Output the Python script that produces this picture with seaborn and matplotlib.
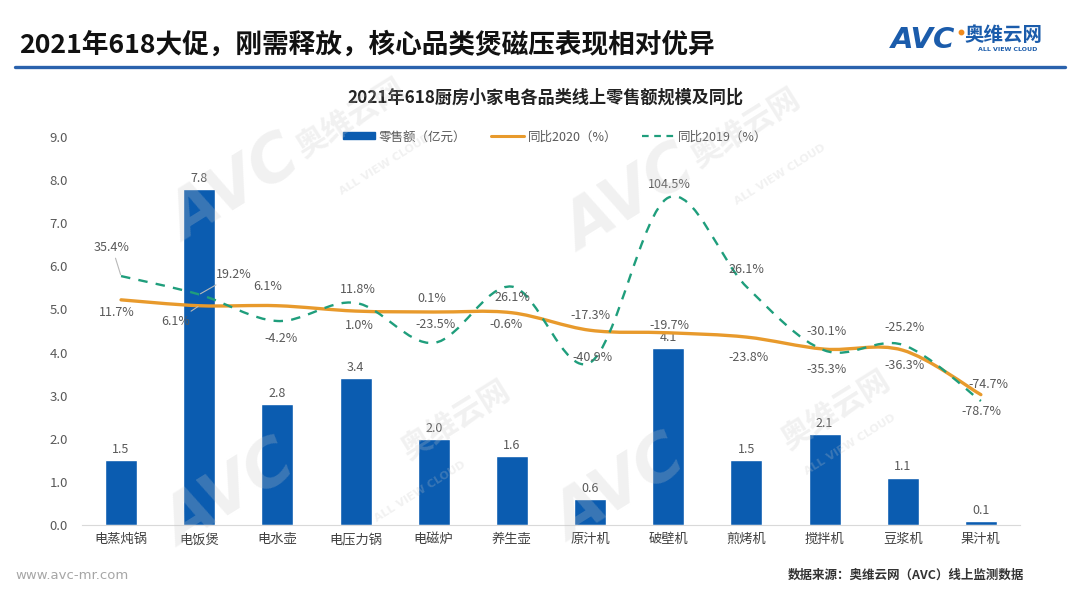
import numpy as np
import matplotlib
matplotlib.use("Agg")
import matplotlib.pyplot as plt
import seaborn as sns
from matplotlib.path import Path
from matplotlib.patches import PathPatch, Patch
from matplotlib.lines import Line2D

# ---------------- data ----------------
categories = ["电蒸炖锅", "电饭煲", "电水壶", "电压力锅", "电磁炉", "养生壶",
              "原汁机", "破壁机", "煎烤机", "搅拌机", "豆浆机", "果汁机"]
sales = [1.5, 7.8, 2.8, 3.4, 2.0, 1.6, 0.6, 4.1, 1.5, 2.1, 1.1, 0.1]
yoy2020 = [11.7, 6.1, 6.1, 1.0, 0.1, -0.6, -17.3, -19.7, -23.8, -35.3, -36.3, -78.7]
yoy2019 = [35.4, 19.2, -4.2, 11.8, -23.5, 26.1, -40.9, 104.5, 26.1, -30.1, -25.2, -74.7]
yticks = [0, 1, 2, 3, 4, 5, 6, 7, 8, 9]

# ---------------- style ----------------
BLUE = "#0b5cb0"
ORANGE = "#e89a2c"
GREEN = "#1f9e7c"
TXT = "#595959"

sns.set_style("white")
plt.rcParams["font.family"] = ["Noto Sans CJK SC", "DejaVu Sans"]

fig = plt.figure(figsize=(10.8, 6.08), dpi=100)
ax = fig.add_axes([0.0759, 0.1365, 0.8685, 0.6382])

sns.barplot(x=categories, y=sales, ax=ax, color=BLUE, width=0.41,
            saturation=1, zorder=2)
ax.set_ylim(0, 9)
ax.set_xlim(-0.5, len(categories) - 0.5)
ax.set_yticks(yticks)
ax.set_yticklabels([f"{v:.1f}" for v in yticks], color=TXT, fontsize=9.5)
ax.tick_params(axis="y", length=0, pad=10)
ax.tick_params(axis="x", length=0, pad=6, labelsize=9.5, labelcolor="#404040")
ax.set_xticks(np.arange(len(categories)) + 0.5, minor=True)
ax.tick_params(axis="x", which="minor", length=4, color="#d9d9d9", width=0.8)
ax.set_xlabel("")
ax.set_ylabel("")
for s in ["top", "right", "left"]:
    ax.spines[s].set_visible(False)
ax.spines["bottom"].set_color("#d9d9d9")
ax.bar_label(ax.containers[0], fmt="%.1f", padding=3, color=TXT, fontsize=9)

# hidden secondary axes for the two growth-rate lines
ax2 = ax.twinx()
ax2.set_ylim(-203, 167)
ax3 = ax.twinx()
ax3.set_ylim(-184, 158)
for a in (ax2, ax3):
    a.set_axis_off()
    a.set_xlim(ax.get_xlim())


def smooth_path(xs, ys):
    pts = np.column_stack([xs, ys]).astype(float)
    n = len(pts)
    verts = [pts[0]]
    codes = [Path.MOVETO]
    for i in range(n - 1):
        p0 = pts[i - 1] if i > 0 else pts[i]
        p1 = pts[i]
        p2 = pts[i + 1]
        p3 = pts[i + 2] if i + 2 < n else pts[i + 1]
        verts += [p1 + (p2 - p0) / 6.0, p2 - (p3 - p1) / 6.0, p2]
        codes += [Path.CURVE4] * 3
    return Path(verts, codes)


xpos = np.arange(len(categories))
ax2.add_patch(PathPatch(smooth_path(xpos, yoy2020), fill=False,
                        edgecolor=ORANGE, lw=2.4, capstyle="round", zorder=3))
ax3.add_patch(PathPatch(smooth_path(xpos, yoy2019), fill=False,
                        edgecolor=GREEN, lw=1.7, linestyle=(0, (4, 3.5)), zorder=4))

# label offsets (pixels: dx right, dy down)
off2020 = [(-4, 13), (-24, 16), (-10, -19), (4, 14), (-2, -14), (-6, 12),
           (0, -15), (1, -7), (2, 20), (2, 20), (2, 15), (1, 17)]
off2019 = [(-9, -29), (35, -20), (4, 17), (2, -13), (2, -18), (1, 11),
           (2, -5), (1, -13), (0, -17), (2, -19), (2, -17), (8, -16)]
lead2020 = {1}
lead2019 = {0, 1}


def put_labels(a, vals, offs, leads):
    for i, (v, (dx, dy)) in enumerate(zip(vals, offs)):
        kw = {}
        if i in leads:
            kw["arrowprops"] = dict(arrowstyle="-", color="#b8b8b8", lw=0.8,
                                    shrinkA=1, shrinkB=1)
        a.annotate(f"{v:.1f}%", xy=(i, v), xytext=(dx * 0.72, -dy * 0.72),
                   textcoords="offset points", ha="center", va="center",
                   fontsize=9, color=TXT, zorder=6, **kw)


put_labels(ax2, yoy2020, off2020, lead2020)
put_labels(ax3, yoy2019, off2019, lead2019)

# legend
handles = [Patch(facecolor=BLUE, edgecolor=BLUE),
           Line2D([], [], color=ORANGE, lw=2.2),
           Line2D([], [], color=GREEN, lw=1.6, linestyle=(0, (3, 2.5)))]
labels = ["零售额（亿元）", "同比2020（%）", "同比2019（%）"]
fig.legend(handles, labels, loc="center", bbox_to_anchor=(0.514, 0.775),
           ncol=3, frameon=False, fontsize=9, labelcolor=TXT,
           handlelength=2.6, handleheight=0.45, columnspacing=2.0,
           handletextpad=0.3)

# headings
fig.text(0.018, 0.926, "2021年618大促，刚需释放，核心品类煲磁压表现相对优异",
         fontsize=19.2, fontweight="bold", color="#111111", va="center", ha="left")
fig.add_artist(Line2D([0.014, 0.986], [0.89, 0.89], color="#2a62ad", lw=2.4))
fig.text(0.505, 0.84, "2021年618厨房小家电各品类线上零售额规模及同比",
         fontsize=12.3, fontweight="bold", color="#222222", va="center", ha="center")

# logo
fig.text(0.825, 0.935, "AVC", fontsize=21, fontweight="bold", style="italic",
         color="#1b5cab", va="center", ha="left", family="DejaVu Sans")
fig.add_artist(Line2D([0.8895], [0.947], marker="o", ms=3.2, color="#f08a1c", lw=0))
fig.text(0.893, 0.942, "奥维云网", fontsize=14, fontweight="bold",
         color="#1b5cab", va="center", ha="left")
fig.text(0.906, 0.918, "ALL VIEW CLOUD", fontsize=4.5, fontweight="bold",
         color="#1b5cab", va="center", ha="left", family="DejaVu Sans")

# footer
fig.text(0.014, 0.054, "www.avc-mr.com", fontsize=9.5, color="#a6a6a6",
         va="center", ha="left", family="DejaVu Sans")
fig.text(0.729, 0.054, "数据来源：奥维云网（AVC）线上监测数据", fontsize=9,
         fontweight="bold", color="#333333", va="center", ha="left")

# faint watermarks
wm = dict(color="#c8c8c8", alpha=0.25, rotation=32, ha="center", va="center", zorder=10)
for (ax_, ay_), (cx, cy), (lx, ly) in [((235, 190), (350, 118), (385, 165)),
                                       ((630, 200), (745, 128), (780, 175)),
                                       ((230, 495), (455, 420), (420, 492)),
                                       ((620, 490), (835, 410), (850, 445))]:
    fig.text(ax_ / 1080, 1 - ay_ / 608, "AVC", fontsize=46, fontweight="bold",
             style="italic", family="DejaVu Sans", **wm)
    fig.text(cx / 1080, 1 - cy / 608, "奥维云网", fontsize=22, fontweight="bold", **wm)
    fig.text(lx / 1080, 1 - ly / 608, "ALL VIEW CLOUD", fontsize=8, fontweight="bold",
             family="DejaVu Sans", **wm)

fig.savefig("out.png", dpi=100)
